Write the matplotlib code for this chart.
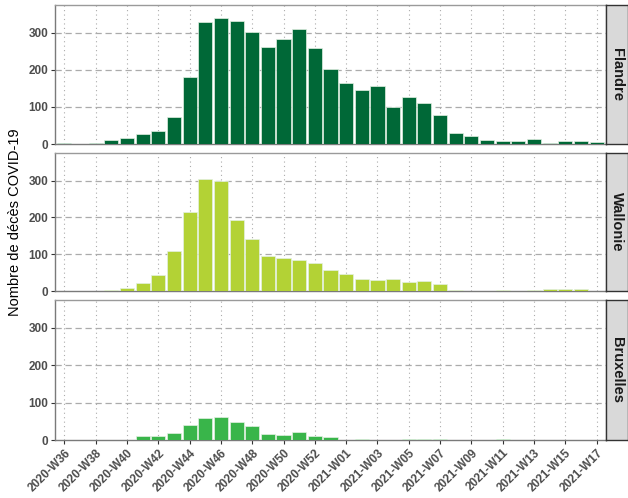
import numpy as np
import matplotlib
matplotlib.use("Agg")
import matplotlib.pyplot as plt

plt.rcParams['font.family'] = ['Liberation Sans', 'DejaVu Sans']

# weeks 2020-W36 .. 2020-W53, 2021-W01 .. 2021-W17
weeks = ["2020-W%02d" % w for w in range(36, 54)] + ["2021-W%02d" % w for w in range(1, 18)]

flandre = [4, 1, 4, 11, 16, 26, 34, 72, 181, 328, 339, 333, 301, 261, 284, 309, 258,
           201, 164, 146, 157, 101, 126, 111, 77, 31, 22, 12, 8, 7, 13, 2, 8, 8, 5]
wallonie = [0, 0, 1, 3, 7, 22, 43, 108, 214, 305, 300, 194, 141, 96, 91, 85, 77,
            58, 47, 32, 29, 32, 24, 28, 18, 2, 0, 0, 2, 0, 2, 6, 6, 5, 0]
bruxelles = [0, 0, 0, 0, 0, 10, 10, 19, 40, 59, 61, 47, 37, 17, 14, 21, 11,
             7, 0, 2, 0, 0, 3, 2, 2, 1, 0, 0, 2, 0, 0, 0, 1, 1, 0]

regions = ["Flandre", "Wallonie", "Bruxelles"]
series = [flandre, wallonie, bruxelles]
colors = ["#006837", "#b3d235", "#39b54a"]

W, H = 628, 498
fig = plt.figure(figsize=(W / 100, H / 100), dpi=100)

x = np.arange(len(weeks))
tick_idx = x[::2]
panels = [(5, 144), (153, 291), (300, 440)]
px_left, px_right, strip_right = 55, 606, 628

tick_col = "#4d4d4d"
grid_col = "#ababab"

for k, (name, vals, col) in enumerate(zip(regions, series, colors)):
    yt, yb = panels[k]
    ax = fig.add_axes([px_left / W, 1 - yb / H, (px_right - px_left) / W, (yb - yt) / H])
    ax.bar(x, vals, width=0.9, color=col, edgecolor="#e3f0e3", linewidth=0.5, zorder=3)
    ax.set_xlim(-0.6, len(weeks) - 0.4)
    ax.set_ylim(0, 375)
    ax.set_yticks([0, 100, 200, 300])
    ax.set_xticks(tick_idx)
    for yv in [100, 200, 300]:
        ax.axhline(yv, color=grid_col, lw=0.9, ls=(0, (5, 3)), zorder=1)
    for xv in tick_idx:
        ax.axvline(xv, color=grid_col, lw=0.8, ls=(0, (1, 3)), zorder=1)
    for s in ax.spines.values():
        s.set_color("#9a9a9a")
        s.set_linewidth(1.0)
    ax.spines["left"].set_color("#7a7a7a")
    ax.spines["bottom"].set_color("#7a7a7a")
    ax.tick_params(axis="y", length=3, color="#333333", labelsize=8.5, labelcolor=tick_col, pad=2)
    for lab in ax.get_yticklabels():
        lab.set_fontweight("bold")
    if k < 2:
        ax.tick_params(axis="x", length=0, labelbottom=False)
    else:
        ax.set_xticklabels([weeks[i] for i in tick_idx], rotation=45, ha="right",
                           rotation_mode="anchor", fontsize=8.5, fontweight="bold", color=tick_col)
        ax.tick_params(axis="x", length=3, color="#333333", pad=2)

    sax = fig.add_axes([px_right / W, 1 - yb / H, (strip_right - px_right) / W, (yb - yt) / H])
    sax.set_facecolor("#d9d9d9")
    sax.set_xticks([])
    sax.set_yticks([])
    for s in sax.spines.values():
        s.set_color("#333333")
        s.set_linewidth(1.0)
    sax.text(0.5, 0.5, name, rotation=-90, ha="center", va="center", fontsize=10.5,
             fontweight="bold", color="#1a1a1a", transform=sax.transAxes)

fig.text(15 / W, 1 - 222 / H, "Nombre de décès COVID-19", rotation=90, ha="center", va="center",
         fontsize=10.5, color="#000000")

fig.savefig("out.png", dpi=100)
